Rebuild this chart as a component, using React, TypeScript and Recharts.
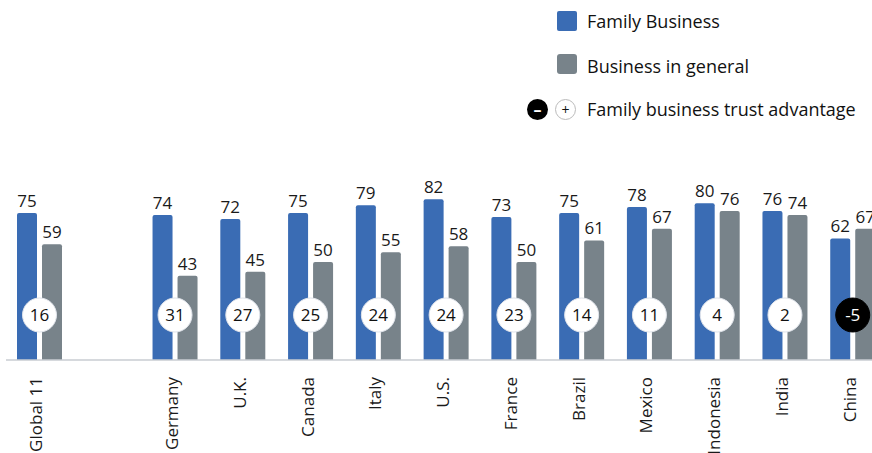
import { Bar, BarChart, LabelList, XAxis, YAxis } from "recharts";

const categories = ["Global 11", "", "Germany", "U.K.", "Canada", "Italy", "U.S.", "France", "Brazil", "Mexico", "Indonesia", "India", "China"];
const familyBusiness = [75, null, 74, 72, 75, 79, 82, 73, 75, 78, 80, 76, 62];
const businessInGeneral = [59, null, 43, 45, 50, 55, 58, 50, 61, 67, 76, 74, 67];
const trustAdvantage = [16, null, 31, 27, 25, 24, 24, 23, 14, 11, 4, 2, -5];

const BLUE = "#3a6cb4";
const GRAY = "#78838a";
const FONT = "'Open Sans', Lato, sans-serif";

const data = categories.map((name, i) => ({
  name,
  family: familyBusiness[i],
  general: businessInGeneral[i],
  advantage: trustAdvantage[i],
}));

function CountryTick(props: any) {
  const { x, y, payload } = props;
  return (
    <g transform={`translate(${x},${y})`}>
      <text transform="rotate(-90)" textAnchor="end" dy="0.15em" fontSize={17} fill="#1a1a1a" fontFamily={FONT}>
        {payload.value}
      </text>
    </g>
  );
}

function AdvantageBadge(props: any) {
  const { x, y, height, value } = props;
  if (value == null) return null;
  const cx = x - 2.5;
  const cy = y + height - 45;
  const negative = value < 0;
  return (
    <g>
      <circle cx={cx} cy={cy} r={17} fill={negative ? "#000" : "#fff"} stroke={negative ? "#000" : "#dfe3ea"} strokeWidth={1} />
      <text x={cx} y={cy} dy="0.36em" textAnchor="middle" fontSize={17} fill={negative ? "#fff" : "#111"} fontFamily={FONT}>
        {value}
      </text>
    </g>
  );
}

function LegendBlock() {
  const row = { position: "absolute" as const, left: 587, fontSize: 18, color: "#111", fontFamily: FONT, lineHeight: "20px" };
  return (
    <>
      <div style={{ position: "absolute", left: 557, top: 11, width: 20, height: 20, background: BLUE, borderRadius: 2 }} />
      <div style={{ ...row, top: 11 }}>Family Business</div>
      <div style={{ position: "absolute", left: 557, top: 54, width: 20, height: 20, background: GRAY, borderRadius: 3 }} />
      <div style={{ ...row, top: 56 }}>Business in general</div>
      <div style={{ position: "absolute", left: 527, top: 99, width: 21, height: 21, borderRadius: "50%", background: "#000", color: "#fff", fontSize: 16, lineHeight: "20px", textAlign: "center", fontFamily: FONT, fontWeight: 700 }}>–</div>
      <div style={{ position: "absolute", left: 555, top: 99, width: 19, height: 19, borderRadius: "50%", border: "1px solid #bbb", background: "#fff", color: "#111", fontSize: 14, lineHeight: "19px", textAlign: "center", fontFamily: FONT }}>+</div>
      <div style={{ ...row, top: 99 }}>Family business trust advantage</div>
    </>
  );
}

export default function App() {
  return (
    <div style={{ position: "absolute", left: 0, top: 0, width: 872, height: 453, overflow: "hidden", background: "#fff" }}>
      <BarChart
        width={897}
        height={453}
        data={data}
        margin={{ top: 164, right: 10, bottom: 0, left: 6 }}
        barSize={20}
        barGap={5}
      >
        <XAxis
          dataKey="name"
          interval={0}
          tick={<CountryTick />}
          tickLine={false}
          axisLine={{ stroke: "#c9ccd2", strokeWidth: 1.5 }}
          height={93}
          tickMargin={11}
        />
        <YAxis hide domain={[0, 100]} />
        <Bar dataKey="family" fill={BLUE} radius={[2, 2, 0, 0]} isAnimationActive={false}>
          <LabelList dataKey="family" position="top" offset={6} fontSize={17} fill="#1a1a1a" fontFamily={FONT} />
        </Bar>
        <Bar dataKey="general" fill={GRAY} radius={[2, 2, 0, 0]} isAnimationActive={false}>
          <LabelList dataKey="general" position="top" offset={6} fontSize={17} fill="#1a1a1a" fontFamily={FONT} />
          <LabelList dataKey="advantage" content={<AdvantageBadge />} />
        </Bar>
      </BarChart>
      <LegendBlock />
    </div>
  );
}
